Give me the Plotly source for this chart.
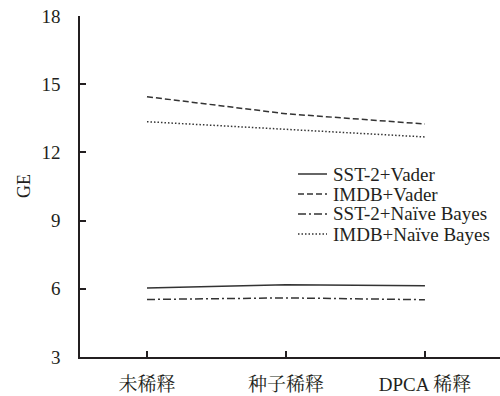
import plotly.graph_objects as go

categories = ["未稀释", "种子稀释", "DPCA 稀释"]
sst2_vader = [6.04, 6.18, 6.13]
imdb_vader = [14.45, 13.70, 13.25]
sst2_nb = [5.53, 5.60, 5.52]
imdb_nb = [13.35, 13.02, 12.68]
y_ticks = [3, 6, 9, 12, 15, 18]
series_names = ["SST-2+Vader", "IMDB+Vader", "SST-2+Naïve Bayes", "IMDB+Naïve Bayes"]
y_title = "GE"

FONT = "Times New Roman, Liberation Serif, Noto Serif CJK SC, Noto Sans CJK SC, serif"
INK = "#231f20"
LINE = "#333333"

series = [
    (series_names[0], sst2_vader, "solid"),
    (series_names[1], imdb_vader, "6px,3px"),
    (series_names[2], sst2_nb, "8px,3px,2px,3px"),
    (series_names[3], imdb_nb, "1.5px,2px"),
]

# plot area in pixels: x 80..500, y 16..357
L, R, T, B = 80, 500, 16, 357


def px_x(p):
    return (p - L) / (R - L)


def px_y(p):
    return (B - p) / (B - T)


fig = go.Figure()
for name, vals, dash in series:
    fig.add_trace(go.Scatter(
        x=list(range(len(categories))), y=vals, name=name, mode="lines",
        line=dict(color=LINE, width=1.5, dash=dash), showlegend=False,
    ))

# compact legend, tighter row spacing than the built-in one
rows_y = [174, 194, 214, 234]
for (name, _, dash), ry in zip(series, rows_y):
    fig.add_shape(type="line", xref="paper", yref="paper",
                  x0=px_x(298), x1=px_x(327), y0=px_y(ry), y1=px_y(ry),
                  line=dict(color=LINE, width=1.5, dash=dash))
    fig.add_annotation(xref="paper", yref="paper", x=px_x(331), y=px_y(ry),
                       xanchor="left", yanchor="middle", text=name, showarrow=False,
                       font=dict(family=FONT, size=19, color=INK))

# rotated y-axis title
fig.add_annotation(xref="paper", yref="paper", x=px_x(24), y=px_y(186),
                   xanchor="center", yanchor="middle", text=y_title, textangle=-90,
                   showarrow=False, font=dict(family=FONT, size=18, color=INK))

fig.update_layout(
    width=500, height=396,
    margin=dict(l=L, r=500 - R, t=T, b=396 - B),
    paper_bgcolor="white", plot_bgcolor="white",
    font=dict(family=FONT, size=19, color=INK),
    showlegend=False,
    xaxis=dict(
        range=[-0.482, 2.54], tickmode="array",
        tickvals=list(range(len(categories))), ticktext=categories,
        showline=True, linecolor=INK, linewidth=1.5, showgrid=False, zeroline=False,
        ticks="inside", ticklen=6, tickcolor=INK, tickwidth=1.5,
        ticklabelstandoff=9,
    ),
    yaxis=dict(
        range=[3, 18], tickmode="array", tickvals=y_ticks,
        showline=True, linecolor=INK, linewidth=1.5, showgrid=False, zeroline=False,
        ticks="inside", ticklen=6, tickcolor=INK, tickwidth=1.5,
        ticklabelstandoff=14,
    ),
)

fig.write_html("out.html")
